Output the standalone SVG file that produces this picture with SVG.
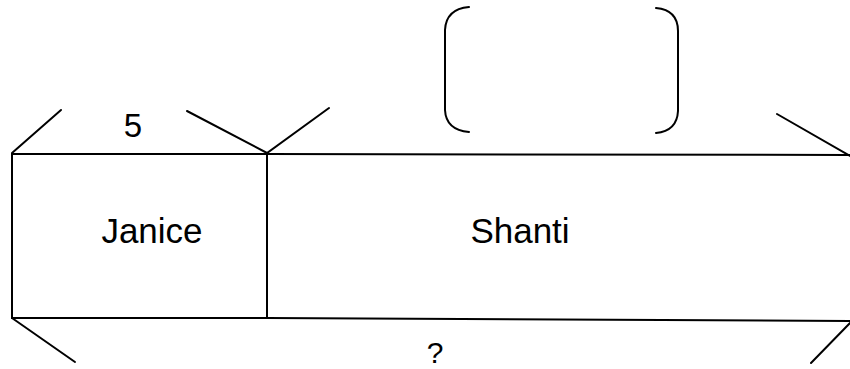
<svg xmlns="http://www.w3.org/2000/svg" width="850" height="369" viewBox="0 0 850 369">
<style>
.ln{stroke:#000;stroke-width:2;fill:none;stroke-linecap:round}
.t{font-family:"Liberation Sans",Arial,sans-serif;font-size:35px;fill:#000;text-anchor:middle}
</style>
<rect width="850" height="369" fill="#fff"/>
<g id="bar">
<g id="janice">
<rect x="12" y="154" width="255" height="164" class="ln"/>
<text class="t" x="152" y="243">Janice</text>
</g>
<g id="shanti">
<path class="ln" d="M267 154 L850 155 M267 318 L850 321"/>
<text class="t" x="520" y="243">Shanti</text>
</g>
</g>
<g id="connectors">
<path class="ln" d="M12 153 L61 110"/>
<path class="ln" d="M187 111 L267 153 L329 108"/>
<path class="ln" d="M777 114 L850 156"/>
<path class="ln" d="M12 318 L75 362"/>
<path class="ln" d="M850 323 L811 363"/>
</g>
<g id="label5"><text class="t" x="133" y="137" style="font-size:33px">5</text></g>
<g id="answer-box">
<path class="ln" d="M469 7 Q446 9 445 30 L445 110 Q446 130 469 132"/>
<path class="ln" d="M656 8 Q678 10 678 31 L678 111 Q677 131 656 133"/>
</g>
<g id="question"><text class="t" x="435" y="363" style="font-size:30px">?</text></g>
</svg>
